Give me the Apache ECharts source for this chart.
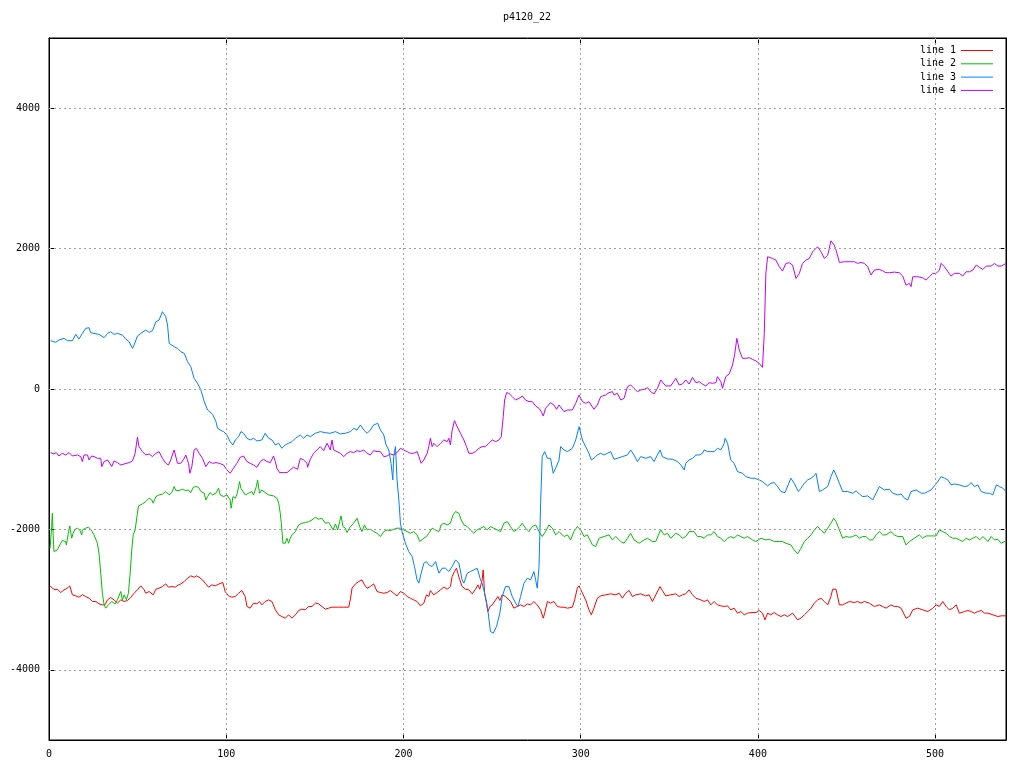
<!DOCTYPE html>
<html>
<head>
<meta charset="utf-8">
<title>p4120_22</title>
<script src="https://cdn.jsdelivr.net/npm/echarts@6/dist/echarts.min.js"></script>
<style>
  html, body { margin: 0; padding: 0; background: #fff; }
  #main { width: 1024px; height: 768px; }
</style>
</head>
<body>
<div id="main"></div>
<script>
// values, [x, y]
const line1 = [[0.6,-2804],[1.9,-2837],[3.4,-2861],[4.7,-2852],[6.6,-2899],[8.5,-2861],[10.4,-2837],[11.7,-2804],[13.2,-2932],[15.1,-2947],[16.9,-2966],[18.8,-2932],[20.7,-2956],[22.6,-2980],[24.5,-3027],[26.4,-3027],[28.2,-3061],[30.1,-3075],[31.6,-3075],[33,-3004],[34.8,-2970],[36.7,-3004],[38.6,-3051],[40.5,-3004],[42.4,-3027],[44.3,-3013],[46.1,-2970],[48,-2909],[49.9,-2861],[51.8,-2804],[53.7,-2861],[54.6,-2909],[56.5,-2885],[58.8,-2932],[60.3,-2852],[62.1,-2837],[64,-2814],[65.9,-2776],[67.4,-2823],[69.3,-2814],[71.2,-2823],[73.1,-2790],[74.4,-2776],[76.3,-2743],[78.2,-2695],[80,-2662],[81.9,-2681],[83.2,-2662],[84.7,-2681],[86.6,-2719],[88.1,-2766],[90,-2823],[91.9,-2790],[93.8,-2804],[96,-2776],
  [98.1,-2757],[99.4,-2885],[101.3,-2947],[103.2,-2966],[105.1,-2956],[107,-2909],[108.8,-2871],[109.8,-2852],[110.7,-2956],[111.7,-3098],[113.5,-3122],[115.4,-3051],[117.3,-3061],[118.8,-3027],[120.1,-3075],[122,-3027],[123.9,-3004],[125.8,-3027],[127.7,-3146],[129.6,-3217],[131.4,-3241],[133.3,-3265],[135.2,-3217],[137.1,-3265],[139,-3217],[140.9,-3155],[142.7,-3136],[144.6,-3146],[146.5,-3098],[148.4,-3098],[150.3,-3051],[152.2,-3061],[154,-3098],[155.9,-3136],[157.8,-3122],[159.7,-3108],[163.5,-3108],[166.3,-3108],[169.1,-3108],[170,-3004],[171,-2837],[172.9,-2776],[174.8,-2743],[176.6,-2719],[178,-2790],[179.5,-2837],[181.3,-2814],[183.2,-2776],[185.1,-2885],[187,-2899],[188.9,-2909],[190.8,-2899],[192.6,-2871],[194.5,-2909],[196.4,-2947],
  [198.3,-2885],[200.2,-2909],[202.1,-2956],[203.9,-2980],[205.8,-3004],[207.7,-3027],[209.6,-3089],[211.5,-3051],[213,-2932],[214.3,-2956],[215.2,-2871],[217.1,-2932],[219,-2899],[220.9,-2861],[222.8,-2823],[224.7,-2852],[226.5,-2814],[227.5,-2671],[228.8,-2600],[229.9,-2553],[230.7,-2624],[231.8,-2719],[233.1,-2814],[235,-2852],[236.9,-2861],[238.8,-2918],[240.7,-2852],[242,-2790],[243.1,-2852],[244.4,-2719],[245,-2577],[245.8,-2918],[246.9,-3051],[247.6,-3170],[248.8,-3098],[250.1,-3075],[252,-3004],[253.3,-2956],[254.4,-3013],[255.7,-2932],[257.6,-2956],[258.6,-2980],[260.4,-3027],[262.3,-3122],[264.2,-3098],[266.1,-3075],[268,-3098],[269.9,-3061],[271.8,-3075],[273.6,-3027],[275.5,-3075],[277.4,-3146],[278.9,-3265],[279.7,-3193],[281.2,-3027],[283,-3051],[284.9,-3027],[286.8,-3098],
  [288.7,-3108],[290.6,-3108],[292.5,-3122],[295.3,-3108],[296.6,-3004],[298.1,-2837],[299.1,-2804],[301,-2909],[302.8,-3004],[304.7,-3146],[306,-3217],[307.5,-3122],[309.4,-2980],[311.3,-2947],[314.1,-2932],[317,-2918],[319.8,-2932],[321.7,-2909],[323.5,-2980],[325.4,-2909],[327.3,-2871],[329.2,-2956],[331.1,-2932],[333.9,-2918],[336.7,-2947],[338.6,-2932],[340.5,-3027],[342.4,-2932],[344.8,-2814],[346.1,-2871],[348,-2947],[350.8,-2932],[353.7,-2918],[355.6,-2956],[357.4,-2932],[359.3,-2918],[361.2,-2861],[363.1,-2932],[365,-2980],[367.8,-3004],[369.7,-3027],[371.6,-3004],[373.4,-3075],[375.3,-3027],[377.2,-3075],[379.1,-3089],[381,-3098],[382.9,-3089],[384.7,-3146],[386.6,-3122],[388.5,-3193],[390.4,-3170],[392.3,-3217],[394.2,-3193],[396,-3184],[398.9,-3184],[400.8,-3155],[402.6,-3193],[404,-3288],[405.5,-3193],[407.3,-3217],[409.2,-3184],[411.1,-3217],[413,-3241],[414.9,-3217],[416.8,-3241],[419.6,-3193],[422.4,-3288],[424.3,-3265],[426.2,-3217],[428.1,-3170],[430,-3122],[431.8,-3051],[433.7,-3004],[435.6,-2980],[437.5,-3027],[439.4,-3075],[441.2,-2956],[442.2,-2852],[444.1,-2852],[446,-3075],[447.8,-3075],[449.7,-3051],[451.6,-3027],[454.4,-3042],[456.3,-3027],[458.2,-3051],[460.1,-3027],[462.9,-3051],[465.7,-3098],[468.5,-3075],[470.4,-3098],[472.3,-3122],[475.1,-3075],[477,-3098],[478.9,-3098],[480.8,-3122],[483.6,-3265],[485.5,-3241],[487.4,-3146],[490.2,-3122],[493,-3146],[495.9,-3170],[498.7,-3122],[500.6,-3075],[502.4,-3098],[504.3,-3027],[506.2,-3098],[508.1,-3146],[510,-3122],[511.9,-3075],[513.7,-3193],[516.6,-3170],[518.5,-3155],[520.3,-3170],[522.2,-3193],[524.1,-3170],[526,-3155],[527.9,-3193],[529.8,-3193],[532.6,-3217],[535.4,-3241],[537.3,-3231],[540.1,-3231]]

const line2 = [[0.6,-2268],[1.5,-1960],[1.9,-1770],[2.3,-2055],[2.8,-2316],[4.7,-2292],[6.6,-2197],[7.5,-2159],[9.4,-2173],[9.8,-2221],[10.9,-2055],[11.7,-1950],[12.8,-2126],[13.6,-2055],[14.7,-1998],[16,-1983],[17.3,-2007],[18.5,-2078],[18.8,-2007],[20.7,-1983],[22.2,-1969],[23.5,-1998],[25.4,-2078],[27.3,-2197],[28.2,-2339],[29.2,-2624],[30.1,-2909],[31.1,-3075],[32,-3122],[33.5,-3075],[35.4,-3027],[37.3,-3061],[38.6,-3004],[39.5,-3027],[40.5,-2885],[41.4,-3004],[42.4,-2932],[43.7,-3004],[44.8,-2909],[45.8,-2624],[46.7,-2292],[47.5,-2078],[48.6,-2007],[49.9,-1770],[50.5,-1665],[52.7,-1637],[54.6,-1604],[56.5,-1556],[58,-1580],[58.8,-1627],[60.3,-1533],[62.1,-1509],[64,-1499],[65.9,-1461],[67.8,-1509],[69.3,-1476],[70.6,-1390],[71.6,-1447],[73.4,-1447],[75.3,-1428],[77.2,-1447],[78.7,-1438],[80,-1476],[81.4,-1400],[82.9,-1390],[84.4,-1400],[85.7,-1461],[87.6,-1485],[88.5,-1580],[89.5,-1533],[90.8,-1476],[92.3,-1509],[94.2,-1485],[95.7,-1414],
  [96.6,-1509],[98.5,-1533],[100.4,-1509],[102.2,-1580],[102.8,-1699],[103.8,-1533],[105.1,-1556],[106,-1509],[107,-1390],[107.5,-1319],[108.3,-1414],[109.4,-1438],[110.7,-1509],[112.6,-1485],[114.5,-1461],[115.4,-1509],[117,-1390],[117.7,-1295],[118.8,-1485],[120.1,-1438],[122,-1476],[123.9,-1509],[126.7,-1523],[128.6,-1556],[129.6,-1627],[130.5,-1770],[131.1,-1912],[132,-2197],[133.3,-2197],[134.3,-2126],[135.2,-2197],[136.1,-2126],[137.1,-2078],[138,-2102],[139,-2031],[140.9,-1936],[142.7,-1912],[144.6,-1903],[146.5,-1889],[148.4,-1865],[150.3,-1827],[152.2,-1855],[154,-1841],[155.9,-1912],[157.8,-1903],[158.7,-1936],[160.3,-2007],[161.6,-1922],[162.9,-2007],[164,-1889],[164.8,-1808],[165.9,-1960],[167.2,-1983],[168.2,-2045],[170,-1960],[171.9,-1912],[173.8,-1841],[175.3,-1960],[176.6,-2031],[178,-1936],[179.5,-2007],[181.3,-1998],[183.2,-2031],[185.1,-2055],[187,-2102],[188.9,-2031],[190.8,-2007],[192.6,-2017],[194.5,-1998],[196.4,-1983],
  [198.3,-1983],[200.2,-2007],[202.1,-2031],[203.9,-2055],[205.8,-2031],[207.7,-2078],[209.2,-2173],[210,-2197],[211.5,-2126],[213,-2102],[214.3,-2055],[216.2,-1983],[218.1,-2007],[220,-2031],[221.3,-1936],[222.8,-1912],[224.7,-1936],[226.5,-1912],[228,-1794],[229.4,-1746],[231.3,-1770],[232.6,-1865],[234.1,-1936],[236,-1960],[237.8,-2007],[239.7,-2055],[241.6,-2007],[243.5,-1983],[245.4,-1960],[247.3,-2007],[249.1,-1960],[251,-1983],[252.9,-2007],[254.8,-2031],[256.7,-1912],[258.6,-1889],[260.4,-1960],[262.3,-2031],[263.8,-2007],[265.7,-1960],[267,-1912],[268.9,-1983],[270.8,-2031],[272.7,-1960],[274.6,-1936],[276.5,-2031],[278.3,-2102],[280.2,-2031],[282.1,-1936],[284,-1983],[285.9,-2078],[287.8,-2031],
  [288.7,-2007],[290.6,-2102],[292.5,-2078],[294.3,-2150],[296.2,-2031],[298.1,-1960],[300,-2007],[301.9,-2102],[303.8,-2078],[306.6,-2221],[308.5,-2244],[310.4,-2126],[313.2,-2102],[316,-2078],[317.9,-2150],[319.8,-2102],[322.6,-2173],[324.5,-2197],[326.4,-2126],[328.2,-2055],[330.1,-2150],[333,-2197],[335.8,-2150],[337.7,-2126],[340.5,-2173],[342.4,-2173],[344.3,-2055],[345.2,-2007],[347.1,-2078],[349,-2055],[350.8,-2126],[353.7,-2055],[355.6,-2078],[357.4,-2126],[359.3,-2102],[361.2,-2031],[364,-2031],[365.9,-2102],[367.8,-2102],[369.7,-2126],[371.6,-2078],[373.4,-2078],[375.3,-2031],[377.2,-2102],[379.1,-2126],[381,-2173],[382.9,-2126],[384.7,-2102],[386.6,-2126],[388.5,-2078],[390.4,-2102],[392.3,-2126],[394.2,-2102],[397,-2150],[398.9,-2173],[401.7,-2126],[404.5,-2150],[406.4,-2140],[409.2,-2173],[412.1,-2173],[413.9,-2173],[415.8,-2197],[418.6,-2221],[420.5,-2292],[422.4,-2349],[424.3,-2268],[426.2,-2173],[428.1,-2126],[430,-2078],[431.8,-2007],[433.7,-1960],[435.6,-2007],[437.5,-2055],[439.4,-1983],[441.2,-1912],[442.8,-1841],[444.1,-1889],[446,-2007],[447.8,-2126],[449.7,-2102],[451.6,-2112],[453.5,-2102],[455.4,-2078],[457.3,-2126],[459.1,-2102],[461,-2102],[462.9,-2150],[464.8,-2150],[466.7,-2078],[468.5,-2031],[470.4,-2078],[472.3,-2078],[475.1,-2031],[477,-2078],[478.9,-2102],[481.7,-2102],[483.6,-2221],[485.5,-2173],[488.3,-2126],[491.1,-2078],[493,-2126],[494.9,-2093],[497.7,-2093],[500.6,-2093],[502.4,-2007],[504.3,-2031],[506.2,-2055],[508.1,-2102],[510,-2126],[511.9,-2126],[513.7,-2150],[515.6,-2173],[517.5,-2126],[519.4,-2150],[521.3,-2126],[523.2,-2102],[525.1,-2150],[527,-2102],[529.8,-2173],[531.6,-2102],[533.5,-2150],[535.4,-2140],[537.3,-2197],[539.2,-2173],[540.1,-2173]]

const line3 = [[0.9,688],[3.8,664],[5.6,697],[8.5,721],[10.4,688],[13.2,688],[15.1,778],[16.9,712],[18.8,792],[20.7,864],[22.6,873],[23.5,802],[25.4,792],[28.2,778],[31.1,731],[33,792],[34.8,816],[36.7,778],[38.6,792],[41.4,769],[43.3,712],[45.2,674],[47.1,579],[48,626],[49.9,754],[51.8,792],[54.6,840],[56.5,807],[58.4,830],[60.3,958],[62.1,982],[64,1101],[65,1125],[65.9,1030],[66.9,911],[67.8,650],[70.6,603],[72.5,579],[74.4,531],[76.3,508],[78.2,389],[80,318],[81.9,152],[83.8,81],[85.7,-14],[87.6,-180],[89.5,-299],[92.3,-361],[94.2,-465],[95.1,-560],
  [96.6,-584],[98.5,-607],[100.4,-655],[102.2,-750],[103.8,-797],[105.1,-726],[107,-679],[108.3,-607],[109.8,-631],[111.7,-702],[113.5,-726],[115.4,-702],[117.3,-740],[120.1,-726],[122,-631],[123.9,-702],[125.8,-726],[127.7,-797],[129.6,-773],[131.4,-845],[133.3,-797],[135.2,-773],[137.1,-750],[139,-702],[141.8,-655],[143.7,-702],[145.6,-655],[147.4,-679],[150.3,-631],[153.1,-607],[155.9,-622],[158.7,-631],[161.6,-607],[164.4,-641],[167.2,-631],[170,-607],[171.9,-560],[173.8,-584],[175.7,-512],[177.6,-584],[179.5,-631],[181.3,-584],[183.2,-512],[185.5,-489],[187,-584],[188.9,-655],[190.2,-797],[191.7,-868],[193,-1058],[194,-1295],[194.5,-963],[195.5,-821],[196.4,-1295],[197.4,-1580],[198.3,-1912],
  [199.2,-2031],[201.1,-2197],[203,-2316],[204.9,-2387],[206.2,-2529],[207.7,-2719],[208.7,-2766],[210,-2624],[211.5,-2482],[213,-2458],[214.3,-2505],[216.2,-2529],[218.1,-2458],[220,-2624],[221.8,-2553],[223.7,-2553],[225.6,-2600],[227.5,-2529],[229.4,-2434],[231.3,-2482],[233.1,-2719],[234.1,-2766],[236,-2624],[237.8,-2600],[239.7,-2577],[241.6,-2553],[243.5,-2719],[244.4,-2766],[246.3,-2956],[247.6,-3146],[249.1,-3454],[250.7,-3478],[252.5,-3383],[254.4,-3193],[255.7,-2956],[257.6,-2814],[259.5,-2814],[261.4,-2956],[263.3,-3051],[264.6,-3098],[266.1,-2956],[268,-2766],[269.9,-2695],[271.8,-2719],[273.6,-2600],[274.6,-2719],[275.5,-2837],[276.5,-2529],[277.4,-1627],[278.3,-963],[279.7,-892],[281.2,-987],[283,-987],[284.5,-1200],[285.9,-1129],[287.8,-1011],
  [288.7,-821],[290.6,-868],[292.5,-892],[295.3,-845],[297.2,-726],[299.1,-536],[301,-726],[302.8,-821],[304.7,-916],[306,-1011],[307.5,-987],[309.4,-940],[311.3,-916],[313.2,-940],[315.1,-916],[317,-892],[318.8,-1001],[320.7,-987],[323.5,-963],[326.4,-940],[328.2,-868],[330.1,-940],[332,-1034],[333.9,-963],[336.7,-987],[339.5,-963],[341.4,-1034],[343.3,-940],[344.8,-868],[346.1,-963],[349,-996],[351.8,-1001],[354.6,-1034],[356.5,-1082],[358.4,-1153],[359.3,-1058],[361.2,-1011],[363.1,-987],[365,-940],[366.9,-940],[368.7,-916],[369.7,-868],[371.6,-892],[373.4,-892],[375.3,-892],[377.2,-845],[379.1,-868],[381,-773],[381.5,-702],[382.9,-773],[384.7,-1011],[386.6,-1058],[388.5,-1177],[391.3,-1200],[393.2,-1248],[396,-1271],[397.9,-1271],[400.8,-1295],[402.6,-1319],[405.5,-1380],[407.3,-1343],[409.2,-1333],[411.1,-1390],[413,-1461],[415.3,-1476],[417.1,-1366],[418.6,-1271],[420.5,-1343],[422.8,-1461],[424.3,-1414],[426.2,-1343],[428.1,-1295],[430,-1271],[431.3,-1248],[432.8,-1200],[434.7,-1461],[436.5,-1438],[439.4,-1390],[441.2,-1248],[442.8,-1153],[444.1,-1224],[446,-1343],[447.8,-1461],[450.7,-1461],[453.5,-1485],[455.4,-1452],[457.3,-1495],[459.1,-1533],[462,-1523],[464.8,-1580],[466.7,-1485],[468.5,-1390],[471.4,-1438],[474.2,-1428],[476.1,-1485],[478.9,-1509],[480.8,-1495],[482.7,-1556],[484.6,-1580],[486.4,-1461],[489.3,-1438],[492.1,-1485],[494,-1485],[495.9,-1461],[497.7,-1438],[499.6,-1380],[501.5,-1319],[503.4,-1248],[505.3,-1271],[507.2,-1295],[509,-1366],[510.9,-1352],[513.7,-1366],[516.6,-1390],[518.5,-1380],[520.3,-1333],[522.2,-1390],[524.1,-1366],[526,-1461],[528.8,-1485],[530.7,-1485],[532.6,-1509],[534.5,-1366],[536.3,-1390],[538.2,-1414],[540.1,-1461]]

const line4 = [[0.9,-906],[2.8,-925],[4.1,-906],[5.6,-954],[7.5,-916],[9.4,-940],[11.3,-906],[13.2,-954],[16,-940],[17.9,-963],[18.8,-1034],[19.8,-940],[21.7,-940],[22.6,-1011],[24.1,-954],[25.4,-963],[27.3,-987],[29.2,-987],[29.8,-1106],[31.1,-1034],[33,-1011],[34.3,-1058],[35.4,-1106],[36.7,-1025],[38.6,-1049],[40.5,-1082],[42.4,-1068],[45.2,-1049],[47.1,-1025],[48.6,-916],[49.9,-688],[50.8,-821],[52.7,-892],[54.6,-940],[56.5,-925],[58.4,-963],[60.3,-916],[62.1,-892],[64,-987],[65.9,-1058],[67.4,-1082],[68.7,-1011],[70.6,-868],[72.5,-1058],[74.4,-1058],[76.3,-987],[77.2,-940],[78.7,-1058],[79.5,-1200],[80,-1224],[80.6,-1106],[81.9,-868],[83.2,-845],[84.7,-916],[86.6,-987],[88.5,-1106],[90.4,-1034],[92.3,-1058],[94.2,-1049],[96,-1058],
  [98.5,-1082],[100.4,-1153],[102.2,-1200],[104.1,-1129],[106,-1058],[107.9,-973],[109.8,-954],[111.7,-1034],[113.5,-1058],[115.4,-1082],[117.3,-1115],[119.2,-1034],[121.1,-1001],[123,-1034],[124.9,-1049],[126.7,-954],[127.7,-1034],[128.6,-1129],[130.1,-1191],[132.4,-1191],[134.3,-1191],[136.1,-1153],[138,-1115],[140.3,-1144],[141.8,-987],[143.7,-1011],[145.6,-1058],[145.9,-1115],[147.4,-1001],[149.3,-916],[151.2,-868],[153.1,-821],[155,-878],[156.9,-773],[158.7,-868],[159.7,-726],[160.6,-868],[162.5,-892],[164.4,-916],[166.3,-963],[168.2,-916],[170,-892],[171.9,-906],[173.8,-878],[175.7,-892],[177.6,-868],[179.5,-916],[181.3,-940],[183.2,-878],[185.1,-892],[187,-892],[188.9,-963],[190.8,-954],[192.6,-925],[194.5,-940],[196.4,-906],
  [198.3,-845],[200.2,-868],[202.1,-892],[203.9,-916],[205.8,-916],[207.7,-892],[208.7,-963],[210,-1058],[211.5,-1011],[213.4,-916],[214.3,-821],[215.2,-702],[216.2,-821],[217.1,-773],[219,-821],[220.9,-773],[222.8,-726],[224.7,-750],[225.6,-702],[226.5,-797],[227.5,-584],[228.8,-451],[230.3,-536],[232.2,-631],[234.1,-726],[235.6,-821],[236.9,-916],[238.8,-916],[240.7,-892],[242.6,-845],[244.4,-821],[246.3,-821],[248.2,-773],[250.1,-726],[252,-750],[253.9,-726],[255.2,-679],[256.3,-394],[257.1,-157],[258.2,-52],[259.5,-62],[261.4,-109],[263.3,-157],[265.2,-133],[267.1,-100],[268.9,-157],[270.8,-180],[272.7,-180],[274.6,-242],[276.5,-275],[277.8,-323],[278.9,-384],[280.2,-275],[281.2,-252],[283,-195],[284.9,-228],[286.4,-289],[287.8,-228],
  [288.7,-228],[290.6,-323],[292.5,-299],[295.3,-299],[297.2,-204],[299.1,-85],[301,-180],[302.8,-204],[304.7,-180],[307.5,-289],[309.4,-228],[311.3,-109],[314.1,-85],[316,-52],[317.9,-38],[318.8,-85],[320.7,-62],[322.6,-157],[324.5,-133],[326.4,33],[328.2,57],[330.1,9],[332,-38],[333.9,-14],[335.8,-5],[337.7,19],[339.5,-38],[341.4,-71],[343.3,9],[345.2,128],[348,43],[350.8,43],[353.7,152],[355.6,57],[357.4,71],[359.3,128],[361.2,71],[363.1,166],[365,90],[366.9,104],[368.7,71],[370.6,43],[372.5,90],[374.4,81],[376.3,90],[377.2,176],[379.1,104],[380,9],[381.9,176],[383.8,214],[385.7,342],[387,508],[388.1,721],[389.5,555],[391.3,437],[393.2,437],[395.1,446],[397,422],[398.9,399],[400.8,365],[402.6,308],[403.6,792],[404.5,1647],[405.5,1884],[408.3,1860],[410.2,1836],[412.1,1741],[413.9,1680],[415.8,1789],[417.7,1798],[419.6,1765],[421.5,1575],[423.4,1647],[425.2,1789],[427.1,1836],[429,1860],[430.9,1955],[433.7,2026],[435.6,1955],[437.5,1860],[439.4,1907],[440.3,2002],[441.2,2111],[442.2,2121],[443.1,2050],[444.1,1979],[446,1803],[448.8,1813],[451.6,1813],[454.4,1813],[456.3,1789],[458.2,1803],[460.1,1789],[462,1741],[463.8,1623],[465.7,1694],[468.5,1703],[470.4,1684],[472.3,1656],[474.2,1656],[477,1665],[479.8,1656],[481.7,1609],[483.6,1480],[485.5,1504],[486.4,1457],[487.4,1599],[490.2,1599],[493,1585],[494.9,1552],[496.8,1599],[498.7,1647],[500.6,1647],[502.4,1694],[503.4,1789],[505.3,1741],[507.2,1670],[509,1609],[510.9,1647],[513.7,1647],[515.6,1609],[517.5,1670],[519.4,1670],[521.3,1694],[523.2,1765],[525.1,1732],[527,1703],[528.8,1751],[531.6,1751],[533.5,1789],[535.4,1751],[537.3,1751],[540.1,1789]]

const xTicks = [0, 100, 200, 300, 400, 500]
const yTicks = [-4000, -2000, 0, 2000, 4000]
const names = ['line 1', 'line 2', 'line 3', 'line 4']
const colors = ['#ff0000', '#00c000', '#0080ff', '#c000ff']

const font = 'DejaVu Sans Mono'

const tickOpt = (vals) => ({
    show: true,
    inside: true,
    length: 6,
    customValues: vals,
    lineStyle: { color: '#000', width: 1 }
})

// plain numbers, no thousands separator
const plain = (v) => String(v)

const gridLines = []
yTicks.forEach((v) => gridLines.push({ yAxis: v }))
xTicks.slice(1).forEach((v) => gridLines.push({ xAxis: v }))

const mkLine = (name, data, i) => ({
    name: name,
    type: 'line',
    data: data,
    showSymbol: false,
    symbol: 'none',
    animation: false,
    z: 3,
    lineStyle: { color: colors[i], width: 1 },
    itemStyle: { color: colors[i] }
})

let myChart = echarts.init(document.getElementById('main'))

const option = {
    backgroundColor: '#fff',
    animation: false,
    title: {
        text: 'p4120_22',
        left: 527,
        top: 12,
        padding: 0,
        textAlign: 'center',
        textStyle: { fontFamily: font, fontSize: 10, fontWeight: 'normal', color: '#000' }
    },
    legend: {
        data: names,
        orient: 'vertical',
        right: 31,
        top: 44,
        padding: 0,
        align: 'right',
        icon: 'rect',
        itemWidth: 32,
        itemHeight: 1,
        itemGap: 0.3,
        textStyle: { fontFamily: font, fontSize: 10, color: '#000', lineHeight: 13 }
    },
    grid: {
        left: 49,
        right: 18,
        top: 38,
        bottom: 28,
        show: true,
        borderColor: '#000',
        borderWidth: 1,
        backgroundColor: 'transparent'
    },
    xAxis: [
        {
            type: 'value', min: 0, max: 540, position: 'bottom',
            axisLine: { show: true, onZero: false, lineStyle: { color: '#000' } },
            axisTick: tickOpt(xTicks),
            axisLabel: { customValues: xTicks, formatter: plain, margin: 9, color: '#000', fontFamily: font, fontSize: 10 },
            splitLine: { show: false }
        },
        {
            type: 'value', min: 0, max: 540, position: 'top',
            axisLine: { show: true, onZero: false, lineStyle: { color: '#000' } },
            axisTick: tickOpt(xTicks),
            axisLabel: { show: false },
            splitLine: { show: false }
        }
    ],
    yAxis: [
        {
            type: 'value', min: -5000, max: 5000, position: 'left',
            axisLine: { show: true, onZero: false, lineStyle: { color: '#000' } },
            axisTick: tickOpt(yTicks),
            axisLabel: { customValues: yTicks, formatter: plain, margin: 9, color: '#000', fontFamily: font, fontSize: 10 },
            splitLine: { show: false }
        },
        {
            type: 'value', min: -5000, max: 5000, position: 'right',
            axisLine: { show: true, onZero: false, lineStyle: { color: '#000' } },
            axisTick: tickOpt(yTicks),
            axisLabel: { show: false },
            splitLine: { show: false }
        }
    ],
    series: [
        {
            name: 'grid',
            type: 'line',
            data: [],
            z: 1,
            silent: true,
            markLine: {
                silent: true,
                symbol: ['none', 'none'],
                animation: false,
                label: { show: false },
                lineStyle: { color: '#a0a0a0', type: [2, 3], width: 1 },
                data: gridLines
            }
        },
        mkLine(names[0], line1, 0),
        mkLine(names[1], line2, 1),
        mkLine(names[2], line3, 2),
        mkLine(names[3], line4, 3)
    ]
}

myChart.setOption(option)
</script>
</body>
</html>
